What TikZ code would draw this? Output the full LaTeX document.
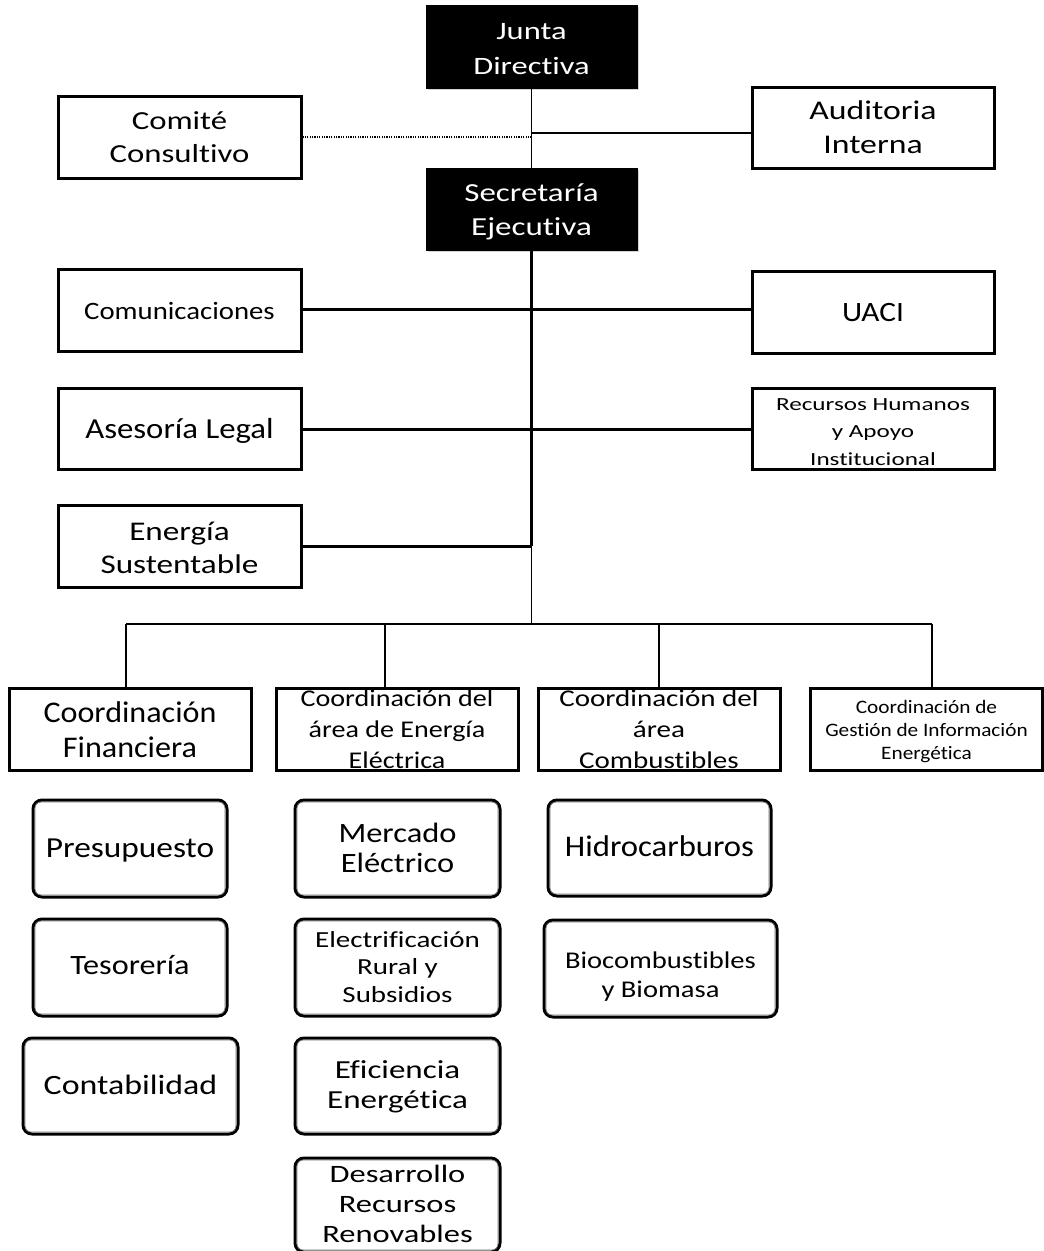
\documentclass[tikz,border=0pt]{standalone}
\usepackage{fontspec}
\setmainfont{Carlito}[Ligatures={NoCommon,NoRequired,NoContextual}]
\usepackage{graphicx}
\usetikzlibrary{shadows}
\newcommand{\tx}[4]{\scalebox{#1}[1]{\fontsize{#2}{#3}\selectfont\begin{tabular}{@{}c@{}}#4\end{tabular}}}
\tikzset{
  sqbox/.style={draw, line width=3pt, inner sep=0pt, fill=white},
  blkbox/.style={draw, fill=black, line width=1pt, inner sep=0pt,
     drop shadow={shadow xshift=1.5pt, shadow yshift=-1.5pt, opacity=.35}},
  rbox/.style={draw, line width=3pt, rounded corners=9pt, inner sep=0pt, fill=white},
  innerln/.style={draw=black!55, line width=0.8pt, rounded corners=6pt},
  lbl/.style={inner sep=0pt, text=black},
  wlbl/.style={inner sep=0pt, text=white},
  thinln/.style={line width=1.5pt},
  thickln/.style={line width=3pt},
  dotln/.style={line width=1.2pt, dash pattern=on 1.2pt off 1.2pt}
}
\begin{document}
\begin{tikzpicture}[x=1pt,y=-1pt]
\useasboundingbox (0,0) rectangle (1044,1251);

% ---- top level
\node[blkbox, minimum width=211pt, minimum height=83pt] (jd) at (531.5,46.5) {};
\node[wlbl] (jdt) at (531.5,49.5) {\tx{1.3}{25}{35}{Junta\\Directiva}};
\node[blkbox, minimum width=211pt, minimum height=82pt] (se) at (531.5,209) {};
\node[wlbl] (set) at (531.5,212) {\tx{1.27}{26}{34}{Secretaría\\Ejecutiva}};

\node[sqbox, minimum width=243pt, minimum height=82pt] (cc) at (179.5,137) {};
\node[lbl] (cct) at (179.5,139) {\tx{1.26}{26}{33}{Comité\\Consultivo}};
\node[sqbox, minimum width=242pt, minimum height=81pt] (ai) at (873,127.5) {};
\node[lbl] (ait) at (873,130) {\tx{1.25}{27}{34}{Auditoria\\Interna}};

\node[sqbox, minimum width=243pt, minimum height=82pt] (co) at (179.5,310) {};
\node[lbl] (cot) at (179.5,313) {\tx{1.15}{25}{30}{Comunicaciones}};
\node[sqbox, minimum width=242pt, minimum height=82pt] (ua) at (873,312) {};
\node[lbl] (uat) at (873,315) {\tx{1.12}{28}{33}{UACI}};
\node[sqbox, minimum width=243pt, minimum height=81pt] (al) at (179.5,428.5) {};
\node[lbl] (alt) at (179.5,431) {\tx{1.13}{29}{35}{Asesoría Legal}};
\node[sqbox, minimum width=242pt, minimum height=81pt] (rh) at (873,428.5) {};
\node[lbl] (rht) at (873,432) {\tx{1.36}{18.5}{27.5}{Recursos Humanos\\y Apoyo\\Institucional}};
\node[sqbox, minimum width=243pt, minimum height=82pt] (es) at (179.5,546) {};
\node[lbl] (est) at (179.5,550) {\tx{1.23}{27}{33}{Energía\\Sustentable}};

% ---- coordinations
\node[sqbox, minimum width=242pt, minimum height=82pt] (cf) at (130,729) {};
\node[sqbox, minimum width=242pt, minimum height=82pt] (ce) at (397,729) {};
\node[sqbox, minimum width=242pt, minimum height=82pt] (cb) at (659,729) {};
\node[sqbox, minimum width=232pt, minimum height=82pt] (cg) at (926.5,729) {};

% ---- connectors
\coordinate (ja) at (531.5,133);
\coordinate (jc) at (531.5,137);
\coordinate (r1) at (531.5,309);
\coordinate (r2) at (531.5,429);
\coordinate (r3) at (531.5,546);
\coordinate (bus) at (531.5,624);
\draw[thinln] (jd.south) -- (se.north);
\draw[thinln] (ja) -- (ja -| ai.west);
\draw[dotln] (jc) -- (jc -| cc.east);
\draw[thickln] (se.south) -- (r3);
\draw[thickln] (r1 -| co.east) -- (r1 -| ua.west);
\draw[thickln] (r2 -| al.east) -- (r2 -| rh.west);
\draw[thickln] (r3) -- (r3 -| es.east);
\draw[thinln] (r3) -- (bus);
\coordinate (d1) at (126,624);
\coordinate (d2) at (385,624);
\coordinate (d3) at (659,624);
\coordinate (d4) at (932,624);
\draw[thinln] (d1) -- (d4);
\draw[thinln] (d1) -- (d1 |- cf.north);
\draw[thinln] (d2) -- (d2 |- ce.north);
\draw[thinln] (d3) -- (d3 |- cb.north);
\draw[thinln] (d4) -- (d4 |- cg.north);

\node[lbl] (cft) at (130,732.5) {\tx{1.07}{30}{35}{Coordinación\\Financiera}};
\node[lbl] (cet) at (397,731) {\tx{1.17}{24}{31}{Coordinación del\\área de Energía\\Eléctrica}};
\node[lbl] (cbt) at (659,731) {\tx{1.21}{24}{31}{Coordinación del\\área\\Combustibles}};
\node[lbl] (cgt) at (926.5,731.5) {\tx{1.12}{19}{23}{Coordinación de\\Gestión de Información\\Energética}};

% ---- units
\node[rbox, minimum width=194pt, minimum height=97pt] (pr) at (130,848.5) {};
\node[lbl] (prt) at (130,850) {\tx{1.15}{29}{35}{Presupuesto}};
\node[rbox, minimum width=194pt, minimum height=97pt] (te) at (130,967.5) {};
\node[lbl] (tet) at (130,968) {\tx{1.15}{28}{34}{Tesorería}};
\node[rbox, minimum width=215pt, minimum height=96pt] (ct) at (130.5,1086) {};
\node[lbl] (ctt) at (130.5,1088) {\tx{1.21}{28}{34}{Contabilidad}};

\node[rbox, minimum width=205pt, minimum height=97pt] (me) at (397.5,848.5) {};
\node[lbl] (met) at (397.5,851) {\tx{1.16}{28}{30}{Mercado\\Eléctrico}};
\node[rbox, minimum width=205pt, minimum height=97pt] (el) at (397.5,967.5) {};
\node[lbl] (elt) at (397.5,969) {\tx{1.26}{23}{27.5}{Electrificación\\Rural y\\Subsidios}};
\node[rbox, minimum width=205pt, minimum height=96pt] (ef) at (397.5,1086) {};
\node[lbl] (eft) at (397.5,1087) {\tx{1.27}{26}{30}{Eficiencia\\Energética}};
\node[rbox, minimum width=205pt, minimum height=94pt] (dr) at (397.5,1205) {};
\node[lbl] (drt) at (397.5,1206) {\tx{1.3}{25}{30}{Desarrollo\\Recursos\\Renovables}};

\node[rbox, minimum width=223pt, minimum height=96pt] (hi) at (659.5,848) {};
\node[lbl] (hit) at (659.5,849) {\tx{1.09}{30}{35}{Hidrocarburos}};
\node[rbox, minimum width=233pt, minimum height=97pt] (bi) at (660.5,968.5) {};
\node[lbl] (bit) at (660.5,977) {\tx{1.19}{24}{29}{Biocombustibles\\y Biomasa}};

\foreach \n in {pr,te,ct,me,el,ef,dr,hi,bi}
  \draw[innerln] ([xshift=3.5pt,yshift=-3.5pt]\n.north west) rectangle ([xshift=-3.5pt,yshift=3.5pt]\n.south east);
\end{tikzpicture}
\end{document}
